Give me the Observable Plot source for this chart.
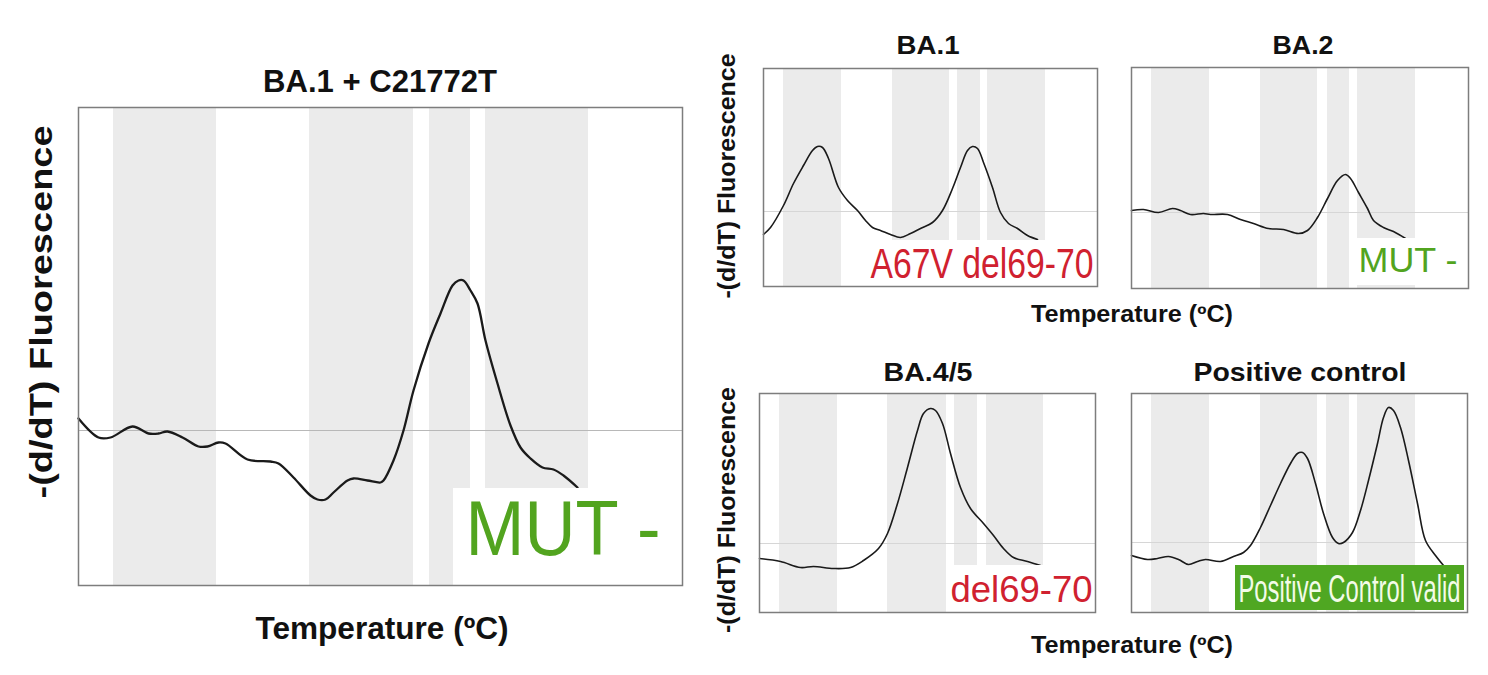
<!DOCTYPE html>
<html><head><meta charset="utf-8">
<script src="https://cdn.jsdelivr.net/npm/d3@7"></script>
<script src="https://cdn.jsdelivr.net/npm/@observablehq/plot@0.6"></script>
<style>
html,body{margin:0;padding:0;background:#fff;}
#fig{position:relative;width:1488px;height:675px;overflow:hidden;background:#fff;font-family:"Liberation Sans",Arial,sans-serif;}
#fig svg{position:absolute;}
</style></head><body><div id="fig"></div>
<script>
// ---------- DATA (temperature in relative units, -(d/dT) fluorescence relative to baseline) ----------
const panelTitles = ["BA.1 + C21772T", "BA.1", "BA.2", "BA.4/5", "Positive control"];
const resultLabels = ["MUT -", "A67V del69-70", "MUT -", "del69-70", "Positive Control valid"];
const yAxisLabel = "-(d/dT) Fluorescence";
const xAxisLabel = "Temperature (\u00baC)";

const curveMain = [[0,12],[20,-7],[32,-7],[54,4],[70,-3],[80,-3],[89,-1],[104,-7],[120,-16],[129,-16],[140,-12],[147,-13],[169,-29],[192,-31],[200,-33],[215,-47],[232,-65],[239,-69],[247,-69],[255,-62],[269,-50],[275,-48],[289,-50],[302,-52],[305,-50],[315,-30],[325,0],[335,40],[350,87],[362,117],[374,145],[380,150],[385,150],[392,140],[399,127],[407,90],[419,47],[432,5],[442,-17],[452,-28],[464,-37],[475,-39],[485,-45],[499,-57]];
const curveBA1 = [[0,-23],[7,-16],[20,6],[30,28],[40,46],[49,61],[54,65],[59,64],[65,53],[75,24],[84,11],[94,1],[102,-9],[109,-16],[117,-19],[127,-23],[137,-26],[147,-22],[157,-17],[169,-11],[179,1],[189,23],[197,44],[204,61],[209,65],[214,63],[220,49],[229,24],[237,-1],[245,-12],[254,-17],[264,-24],[274,-28]];
const curveBA2 = [[0,2],[12,3],[27,0],[41,4],[49,2],[59,-2],[72,-1],[79,-2],[96,-2],[109,-7],[122,-11],[137,-16],[152,-17],[167,-21],[176,-18],[186,-5],[196,14],[206,32],[214,38],[219,34],[227,20],[236,4],[242,-8],[252,-15],[262,-19],[274,-26]];
const curveBA45 = [[0,-15],[21,-18],[41,-24],[54,-23],[74,-25],[91,-24],[104,-17],[119,-5],[128,10],[138,40],[148,76],[158,113],[164,130],[171,135],[176,133],[183,120],[191,90],[201,56],[211,35],[224,20],[234,8],[244,-5],[254,-14],[268,-18],[281,-22]];
const curvePos = [[0,-13],[16,-17],[26,-16],[37,-14],[47,-17],[57,-22],[66,-19],[74,-17],[89,-19],[102,-14],[112,-10],[119,-3],[129,15],[139,37],[149,59],[159,79],[166,89],[171,90],[176,84],[184,59],[192,29],[201,5],[207,-1],[212,0],[221,10],[229,32],[237,62],[246,99],[252,125],[257,135],[262,132],[269,115],[277,82],[286,39],[294,2],[304,-13],[312,-23]];

const bandsMain = [[35,138],[231,335],[351,392],[407,510]];
const bandsBA1 = [[20,78],[129,186],[194,217],[224,282]];
const bandsBA2 = [[20,78],[129,186],[196,218],[226,284]];
const bandsBA45 = [[20,78],[128,187],[195,218],[227,284]];
const bandsPos = [[20,78],[129,186],[195,218],[226,284]];

// ---------- LAYOUT ----------
const RED = "#d0212f", GREEN = "#52a41f";
const panels = [
  {title:0, curve:curveMain, bands:bandsMain, left:78, top:107, w:604, h:478, yd:[-155,323], sw:2.3, rule:"#b8b8b8",
   box:[375,604,-155,-58], boxFill:"#fff", lx:387, ly:-100, size:78, len:195, fill:GREEN},
  {title:1, curve:curveBA1, bands:bandsBA1, left:763, top:68, w:334, h:218, yd:[-75,143], sw:1.6, rule:"#d6d6d6",
   box:[99,334,-75,-29], boxFill:"#fff", lx:107, ly:-52.5, size:43, len:223, fill:RED},
  {title:2, curve:curveBA2, bands:bandsBA2, left:1131, top:67, w:337, h:221, yd:[-76,145], sw:1.6, rule:"#d6d6d6",
   box:[222,337,-73,-26], boxFill:"#fff", lx:227, ly:-48.5, size:35, len:99, fill:GREEN},
  {title:3, curve:curveBA45, bands:bandsBA45, left:759, top:393, w:336, h:219, yd:[-69,150], sw:1.6, rule:"#d6d6d6",
   box:[188,336,-69,-22], boxFill:"#fff", lx:191, ly:-47, size:36, len:142, fill:RED},
  {title:4, curve:curvePos, bands:bandsPos, left:1131, top:393, w:336, h:219, yd:[-70,149], sw:1.6, rule:"#d6d6d6",
   box:[104,333,-68,-23], boxFill:"#4fa722", lx:107, ly:-47.7, size:24, sy:1.6, len:222, fill:"#f3fbe8"}
];

const fig = document.getElementById("fig");
const m = 1;
panels.forEach(p => {
  const pts = p.curve.map(([t, f]) => ({t, f}));
  const bands = p.bands.map(([a, b]) => ({a, b}));
  const chart = Plot.plot({
    width: p.w + 2*m, height: p.h + 2*m, margin: m,
    x: {domain: [0, p.w], axis: null},
    y: {domain: p.yd, axis: null},
    style: {background: "transparent", overflow: "visible"},
    marks: [
      Plot.rect(bands, {x1: "a", x2: "b", fill: "#ebebeb"}),
      Plot.ruleY([0], {stroke: p.rule, strokeWidth: 1}),
      Plot.line(pts, {x: "t", y: "f", curve: "catmull-rom", stroke: "#1a1a1a", strokeWidth: p.sw}),
      Plot.rect([p.box], {x1: d => d[0], x2: d => d[1], y1: d => d[2], y2: d => d[3], fill: p.boxFill}),
      Plot.text([resultLabels[p.title]], {x: () => p.lx, y: () => p.ly, text: d => d, textAnchor: "start",
        lineAnchor: "middle", fontSize: p.size, fill: p.fill, fontFamily: "Liberation Sans, Arial, sans-serif"}),
      Plot.frame({stroke: "#7d7d7d", strokeWidth: 1.5})
    ]
  });
  chart.style.left = (p.left - m) + "px";
  chart.style.top = (p.top - m) + "px";
  fig.appendChild(chart);
  chart.querySelectorAll("text").forEach(t => {
    t.setAttribute("textLength", p.len);
    t.setAttribute("lengthAdjust", "spacingAndGlyphs");
    if (p.sy) {
      // stretch the label vertically around its anchor point
      const cx = m + p.lx, cy = m + (p.yd[1] - p.ly);
      const g = document.createElementNS("http://www.w3.org/2000/svg", "g");
      g.setAttribute("transform", `translate(${cx},${cy}) scale(1,${p.sy}) translate(${-cx},${-cy})`);
      t.parentNode.insertBefore(g, t);
      g.appendChild(t);
    }
  });
});

// ---------- TITLES AND AXIS LABELS ----------
const figureTexts = [
  {text: panelTitles[0], x: 380, y: 92, size: 31, len: 234},
  {text: yAxisLabel, x: 52, y: 312, size: 31, len: 373, rot: true},
  {text: xAxisLabel, x: 382, y: 639, size: 31, len: 253},
  {text: panelTitles[1], x: 928, y: 54, size: 25, len: 63},
  {text: panelTitles[2], x: 1303, y: 54, size: 25, len: 61},
  {text: yAxisLabel, x: 735, y: 176, size: 23, len: 245, rot: true},
  {text: xAxisLabel, x: 1132, y: 322, size: 23, len: 202},
  {text: panelTitles[3], x: 928, y: 381, size: 25, len: 89},
  {text: panelTitles[4], x: 1300, y: 381, size: 25, len: 213},
  {text: yAxisLabel, x: 735, y: 510, size: 23, len: 246, rot: true},
  {text: xAxisLabel, x: 1132, y: 653, size: 23, len: 202}
];
const overlay = d3.select(fig).append("svg")
  .attr("width", 1488).attr("height", 675)
  .style("left", "0px").style("top", "0px").style("pointer-events", "none");
overlay.selectAll("text").data(figureTexts).join("text")
  .attr("transform", d => `translate(${d.x},${d.y})` + (d.rot ? " rotate(-90)" : ""))
  .attr("text-anchor", "middle")
  .attr("font-family", "Liberation Sans, Arial, sans-serif")
  .attr("font-weight", "bold")
  .attr("font-size", d => d.size)
  .attr("fill", "#111")
  .attr("textLength", d => d.len)
  .attr("lengthAdjust", "spacingAndGlyphs")
  .text(d => d.text);
</script></body></html>
